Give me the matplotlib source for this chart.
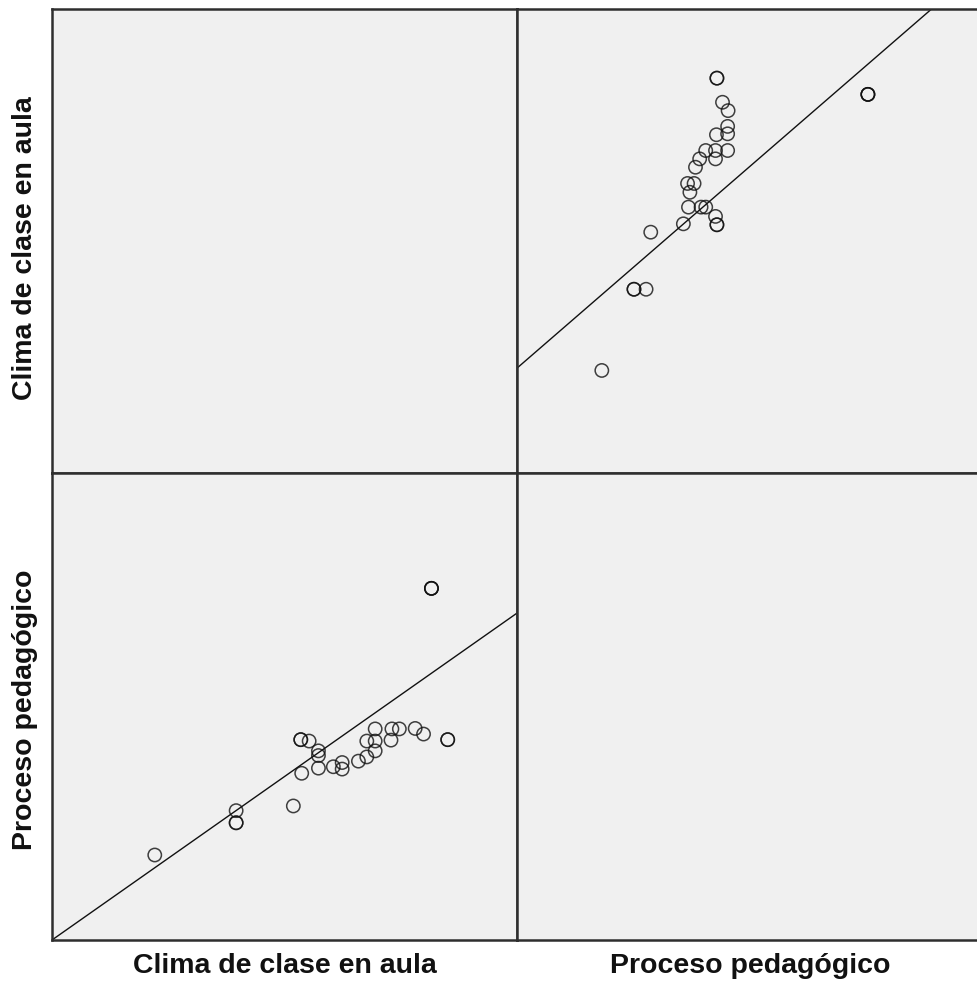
import matplotlib
matplotlib.use('Agg')
import matplotlib.pyplot as plt
import numpy as np

# scores (0-100 scale, both variables)
clima = [81.6, 81.6, 81.6, 85.1, 85.1, 79.9, 78.1, 74.7, 73.1, 72.9, 69.5, 69.5,
         67.7, 69.5, 67.7, 65.9, 62.4, 62.4, 60.5, 57.3, 57.3, 57.3, 53.5, 53.5,
         55.3, 53.7, 51.9, 39.6, 39.6, 39.6, 22.1]
proceso = [75.3, 75.3, 75.3, 42.9, 42.9, 44.1, 45.3, 45.2, 45.2, 42.8, 45.2, 42.6,
           42.6, 40.5, 39.2, 38.3, 38.0, 36.6, 37.1, 36.8, 39.5, 40.5, 42.9, 42.9,
           42.6, 35.7, 28.7, 27.7, 25.1, 25.1, 18.2]

# fit lines as drawn in the picture: (intercept, slope)
fit_proceso_on_clima = (0.0, 0.70)
fit_clima_on_proceso = (22.6, 0.87)

labels = ['Clima de clase en aula', 'Proceso pedagógico']

W, H = 977, 989
fig = plt.figure(figsize=(W / 100, H / 100), dpi=100)
fig.patch.set_facecolor('white')

bg = '#f0f0f0'
frame = '#2e2e2e'

def make_ax(x0, y0, w, h):
    ax = fig.add_axes([x0 / W, 1 - (y0 + h) / H, w / W, h / H])
    ax.set_facecolor(bg)
    ax.set_xlim(0, 100)
    ax.set_ylim(0, 100)
    ax.set_xticks([])
    ax.set_yticks([])
    for s in ax.spines.values():
        s.set_color(frame)
        s.set_linewidth(1.8)
    return ax

ax_tl = make_ax(52, 9, 465, 464)
ax_tr = make_ax(517, 9, 466, 464)
ax_bl = make_ax(52, 473, 465, 467)
ax_br = make_ax(517, 473, 466, 467)

def scatter_fit(ax, x, y, fit):
    ax.scatter(x, y, s=92, facecolors='none', edgecolors='#111111',
               linewidths=1.1, alpha=0.8, zorder=3)
    xs = np.array([0, 100])
    ax.plot(xs, fit[0] + fit[1] * xs, color='#111111', lw=1.0, zorder=2)

# top right: x = proceso, y = clima
scatter_fit(ax_tr, proceso, clima, fit_clima_on_proceso)
# bottom left: x = clima, y = proceso
scatter_fit(ax_bl, clima, proceso, fit_proceso_on_clima)

font = dict(family=['Liberation Sans', 'DejaVu Sans'], fontweight='bold',
            fontsize=20.5, color='#111111')
fig.text((52 + 465 / 2) / W, 1 - 966 / H, labels[0], ha='center', va='center', **font)
fig.text((517 + 466 / 2) / W, 1 - 966 / H, labels[1], ha='center', va='center', **font)
fig.text(25 / W, 1 - 248 / H, labels[0], ha='center', va='center', rotation=90, **font)
fig.text(25 / W, 1 - 710 / H, labels[1], ha='center', va='center', rotation=90, **font)

fig.savefig('out.png', dpi=100, facecolor='white')
